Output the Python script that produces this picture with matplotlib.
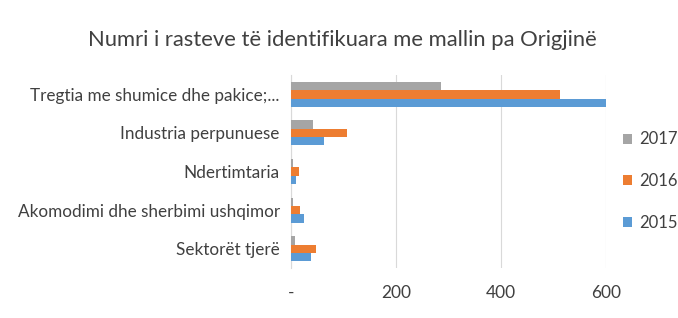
import matplotlib
matplotlib.use("Agg")
import matplotlib.pyplot as plt
import numpy as np

plt.rcParams['font.family'] = ['Lato', 'DejaVu Sans']

# data
categories = ['Sektorët tjerë', 'Akomodimi dhe sherbimi ushqimor', 'Ndertimtaria',
              'Industria perpunuese', 'Tregtia me shumice dhe pakice;...']
v2015 = [38, 25, 10, 64, 600]
v2016 = [47, 18, 15, 106, 513]
v2017 = [8, 5, 5, 42, 285]
years = ['2015', '2016', '2017']
colors = ['#5B9BD5', '#ED7D31', '#A5A5A5']

fig = plt.figure(figsize=(6.78, 3.18), dpi=100)
ax = fig.add_axes([0.429, 0.157, 0.465, 0.607])

y = np.arange(len(categories))
h = 0.216
for i, (vals, lab, c) in enumerate(zip([v2015, v2016, v2017], years, colors)):
    ax.barh(y + (i - 1) * h, vals, height=h, color=c, label=lab, zorder=3)

ax.set_yticks(y)
ax.set_yticklabels(categories, fontsize=12.3, color='#404040')
ax.set_ylim(-0.5, len(categories) - 0.5)
ax.set_xlim(0, 600)
ax.set_xticks([0, 200, 400, 600])
ax.set_xticklabels(['-', '200', '400', '600'], fontsize=12.5, color='#404040')
ax.tick_params(length=0, pad=12)
ax.tick_params(axis='y', pad=8)
ax.grid(axis='x', color='#D9D9D9', linewidth=0.8, zorder=0)
for s in ['top', 'right', 'bottom']:
    ax.spines[s].set_visible(False)
ax.spines['left'].set_color('#D9D9D9')

handles, labels = ax.get_legend_handles_labels()
fig.legend(handles[::-1], labels[::-1], loc='center left', bbox_to_anchor=(0.897, 0.43),
           frameon=False, fontsize=12, labelcolor='#404040', handlelength=0.55,
           handleheight=0.55, handletextpad=0.4, labelspacing=1.55)

fig.suptitle('Numri i rasteve të identifikuara me mallin pa Origjinë', x=0.505, y=0.905,
             fontsize=15.8, color='#404040')

fig.savefig('out.png', dpi=100)
